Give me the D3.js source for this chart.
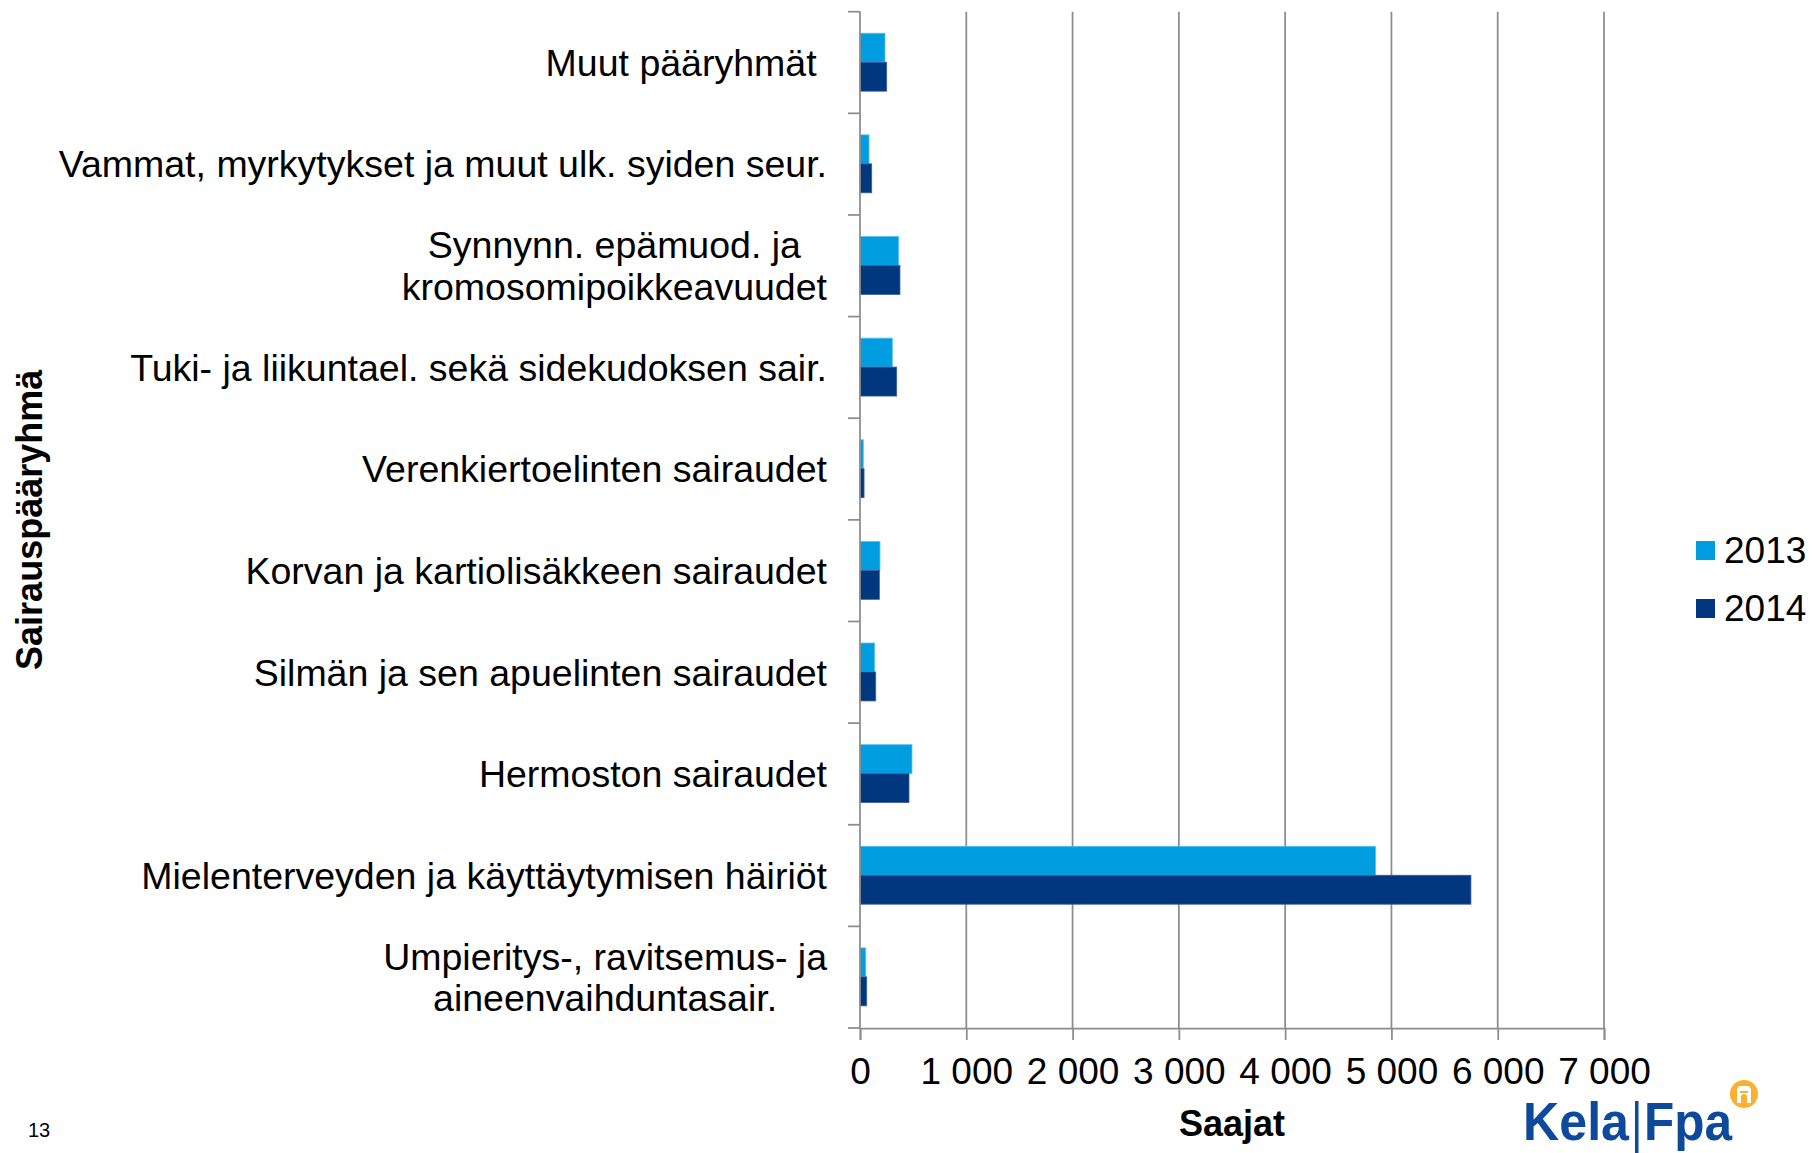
<!DOCTYPE html>
<html>
<head>
<meta charset="utf-8">
<script src="https://cdn.jsdelivr.net/npm/d3@7"></script>
<style>
  body { margin: 0; background: #fff; }
  text { font-family: "Liberation Sans", Arial, sans-serif; }
</style>
</head>
<body>
<div id="chart"></div>
<script>
// sairauspääryhmät, top to bottom as drawn
var categories = [
  "Muut pääryhmät ",
  "Vammat, myrkytykset ja muut ulk. syiden seur.",
  "Synnynn. epämuod. ja\nkromosomipoikkeavuudet",
  "Tuki- ja liikuntael. sekä sidekudoksen sair.",
  "Verenkiertoelinten sairaudet",
  "Korvan ja kartiolisäkkeen sairaudet",
  "Silmän ja sen apuelinten sairaudet",
  "Hermoston sairaudet",
  "Mielenterveyden ja käyttäytymisen häiriöt",
  "Umpieritys-, ravitsemus- ja\naineenvaihduntasair."
];
var series = ["2013", "2014"];
var values2013 = [235, 85, 364, 304, 31, 188, 138, 489, 4851, 54];
var values2014 = [251, 110, 376, 345, 38, 182, 148, 461, 5748, 63];
var xTicks = [0, 1000, 2000, 3000, 4000, 5000, 6000, 7000];

var colors = { "2013": "#009ee0", "2014": "#00377f" };
var edges = { "2013": "#5cc0ee", "2014": "#3a5f9e" };

var width = 1812, height = 1153;
// note: "top" is taken by window.top, so plot* names
var plotLeft = 860, plotRight = 1604, plotTop = 11.7, plotBottom = 1028;

var svg = d3.select("#chart").append("svg")
    .attr("width", width)
    .attr("height", height);

var x = d3.scaleLinear().domain([0, 7000]).range([plotLeft, plotRight]);
var y = d3.scaleBand().domain(categories).range([plotTop, plotBottom]);
var y1 = d3.scaleBand().domain(series)
    .range([y.bandwidth() * 0.212, y.bandwidth() * 0.782]);

var fmt = d3.formatLocale({ decimal: ",", thousands: " ", grouping: [3], currency: ["", ""] }).format(",");

// gridlines
svg.append("g").selectAll("line")
  .data(xTicks.slice(1))
  .enter().append("line")
    .attr("x1", d => x(d)).attr("x2", d => x(d))
    .attr("y1", plotTop).attr("y2", plotBottom)
    .attr("stroke", "#8c8c8c")
    .attr("stroke-width", 1.75);

// bars
var rows = categories.map((c, i) => ({ cat: c, vals: [values2013[i], values2014[i]] }));
var grp = svg.append("g").selectAll("g")
  .data(rows)
  .enter().append("g")
    .attr("transform", d => "translate(0," + y(d.cat) + ")");

grp.selectAll("rect")
  .data(d => series.map((s, j) => ({ s: s, v: d.vals[j] })))
  .enter().append("rect")
    .attr("x", x(0))
    .attr("y", d => y1(d.s))
    .attr("width", d => x(d.v) - x(0))
    .attr("height", y1.bandwidth())
    .attr("fill", d => colors[d.s])
    .attr("stroke", d => edges[d.s])
    .attr("stroke-width", 0.8);

// x axis
var xAxis = svg.append("g")
    .attr("transform", "translate(0," + plotBottom + ")")
    .call(d3.axisBottom(x).tickValues(xTicks).tickFormat(fmt).tickSize(12).tickPadding(18));
xAxis.select(".domain").attr("stroke", "#8c8c8c").attr("stroke-width", 1.75);
xAxis.selectAll(".tick line").attr("stroke", "#8c8c8c").attr("stroke-width", 1.75);
xAxis.selectAll(".tick text")
    .attr("font-size", 37)
    .attr("font-family", "Liberation Sans, Arial, sans-serif")
    .attr("fill", "#000");

// y axis line and boundary ticks
var bounds = categories.map(c => y(c)).concat([y(categories[categories.length - 1]) + y.bandwidth()]);
svg.append("line")
    .attr("x1", plotLeft).attr("x2", plotLeft)
    .attr("y1", plotTop).attr("y2", plotBottom)
    .attr("stroke", "#8c8c8c").attr("stroke-width", 1.75);
svg.append("g").selectAll("line")
  .data(bounds)
  .enter().append("line")
    .attr("x1", plotLeft - 12).attr("x2", plotLeft)
    .attr("y1", d => d).attr("y2", d => d)
    .attr("stroke", "#8c8c8c").attr("stroke-width", 1.75);

// category labels - wrapped ones are centred in their block
var labelX = 827, lineH = 41.7;
categories.forEach(function(c) {
  var lines = c.split("\n");
  var cy = y(c) + y.bandwidth() / 2;
  var t = svg.append("text")
      .attr("font-size", 37.5)
      .attr("fill", "#000")
      .style("white-space", "pre");
  lines.forEach(function(l, k) {
    t.append("tspan")
      .attr("x", labelX)
      .attr("y", cy + (k - (lines.length - 1) / 2) * lineH)
      .attr("dy", "0.355em")
      .attr("text-anchor", "end")
      .text(l);
  });
  if (lines.length > 1) {
    var w = d3.max(t.selectAll("tspan").nodes(), n => n.getComputedTextLength());
    t.selectAll("tspan")
      .attr("x", labelX - w / 2)
      .attr("text-anchor", "middle");
  }
});

// axis titles
svg.append("text")
    .attr("transform", "translate(42," + (plotTop + plotBottom) / 2 + ") rotate(-90)")
    .attr("text-anchor", "middle")
    .attr("font-size", 36)
    .attr("font-weight", "bold")
    .text("Sairauspääryhmä");

svg.append("text")
    .attr("x", (plotLeft + plotRight) / 2)
    .attr("y", 1136)
    .attr("text-anchor", "middle")
    .attr("font-size", 36)
    .attr("font-weight", "bold")
    .text("Saajat");

// legend
var legend = svg.append("g").selectAll("g")
  .data(series)
  .enter().append("g")
    .attr("transform", (d, i) => "translate(1696," + (541 + i * 58) + ")");
legend.append("rect")
    .attr("width", 19).attr("height", 19)
    .attr("fill", d => colors[d]);
legend.append("text")
    .attr("x", 28).attr("y", 22)
    .attr("font-size", 37)
    .text(d => d);

// slide number
svg.append("text")
    .attr("x", 28).attr("y", 1137)
    .attr("font-size", 20)
    .text("13");

// Kela|Fpa logo
var logo = svg.append("g").attr("fill", "#0d4a9b");
logo.append("text")
    .attr("x", 1523).attr("y", 1140)
    .attr("font-family", "Liberation Sans Narrow, Roboto, Arial, sans-serif")
    .attr("font-weight", "bold")
    .attr("font-size", 54)
    .attr("textLength", 106)
    .attr("lengthAdjust", "spacingAndGlyphs")
    .text("Kela");
logo.append("rect")
    .attr("x", 1635).attr("y", 1101)
    .attr("width", 3.5).attr("height", 52);
logo.append("text")
    .attr("x", 1644).attr("y", 1140)
    .attr("font-family", "Liberation Sans Narrow, Roboto, Arial, sans-serif")
    .attr("font-weight", "bold")
    .attr("font-size", 54)
    .attr("textLength", 88)
    .attr("lengthAdjust", "spacingAndGlyphs")
    .text("Fpa");
svg.append("circle")
    .attr("cx", 1744).attr("cy", 1094).attr("r", 14)
    .attr("fill", "#f8b133");
svg.append("path")
    .attr("d", "M1737,1103 L1737,1089 L1739,1086 L1749,1086 L1751,1089 L1751,1103 L1747,1103 L1747,1097 A3,3 0 0 0 1741,1097 L1741,1103 Z M1740,1091 L1748,1091 L1748,1093 L1740,1093 Z")
    .attr("fill", "#fff")
    .attr("fill-rule", "evenodd");
</script>
</body>
</html>
